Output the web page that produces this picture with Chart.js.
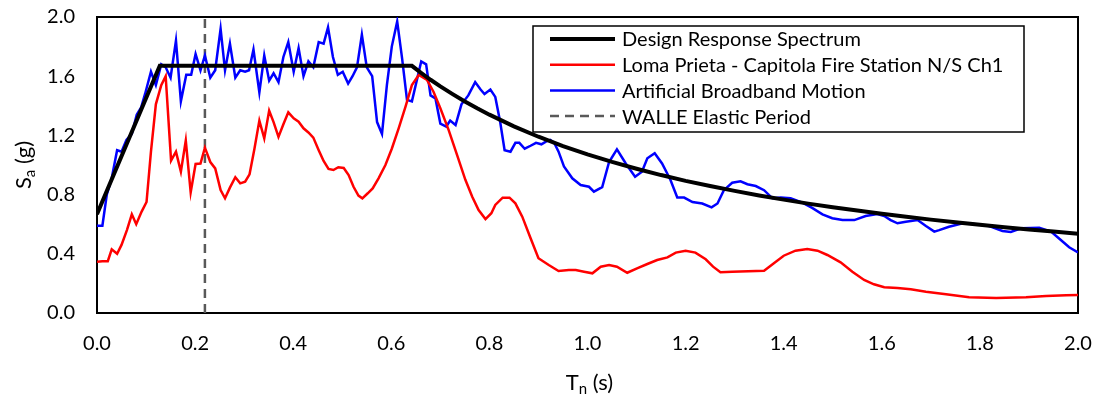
<!DOCTYPE html>
<html>
<head>
<meta charset="utf-8">
<script src="https://cdn.jsdelivr.net/npm/chart.js@4/dist/chart.umd.min.js"></script>
<style>
  html, body { margin: 0; padding: 0; background: #fff; }
  #wrap { width: 1101px; height: 398px; }
</style>
</head>
<body>
<div id="wrap"><canvas id="spectrumChart" width="1101" height="398"></canvas></div>
<script>
// Design response spectrum (period s, Sa g)
const designT = [0, 0.128, 0.642, 0.66, 0.68, 0.7, 0.725, 0.75, 0.775, 0.8, 0.85, 0.9, 0.95, 1.0, 1.05, 1.1, 1.15, 1.2, 1.25, 1.3, 1.35, 1.4, 1.45, 1.5, 1.55, 1.6, 1.65, 1.7, 1.75, 1.8, 1.85, 1.9, 1.95, 2.0];
const designSa = [0.668, 1.67, 1.67, 1.624, 1.576, 1.531, 1.479, 1.429, 1.383, 1.34, 1.261, 1.191, 1.128, 1.072, 1.021, 0.975, 0.932, 0.893, 0.858, 0.825, 0.794, 0.766, 0.739, 0.715, 0.692, 0.670, 0.650, 0.631, 0.613, 0.596, 0.579, 0.564, 0.550, 0.536];

// Loma Prieta - Capitola Fire Station N/S Ch1
const lomaT = [0.0, 0.011, 0.022, 0.03, 0.041, 0.05, 0.061, 0.071, 0.08, 0.091, 0.101, 0.11, 0.12, 0.131, 0.14, 0.151, 0.161, 0.171, 0.181, 0.191, 0.201, 0.211, 0.22, 0.231, 0.241, 0.252, 0.261, 0.271, 0.282, 0.292, 0.302, 0.311, 0.321, 0.331, 0.341, 0.351, 0.36, 0.37, 0.38, 0.39, 0.401, 0.411, 0.421, 0.431, 0.441, 0.452, 0.462, 0.472, 0.482, 0.492, 0.503, 0.513, 0.523, 0.533, 0.541, 0.552, 0.562, 0.574, 0.588, 0.601, 0.615, 0.629, 0.642, 0.656, 0.673, 0.686, 0.70, 0.717, 0.734, 0.751, 0.765, 0.778, 0.792, 0.804, 0.812, 0.827, 0.841, 0.853, 0.867, 0.884, 0.90, 0.921, 0.941, 0.962, 0.976, 0.993, 1.01, 1.027, 1.044, 1.06, 1.081, 1.101, 1.122, 1.142, 1.163, 1.18, 1.20, 1.22, 1.241, 1.256, 1.271, 1.295, 1.36, 1.38, 1.40, 1.424, 1.448, 1.469, 1.489, 1.516, 1.54, 1.564, 1.584, 1.605, 1.632, 1.659, 1.69, 1.731, 1.778, 1.833, 1.894, 1.935, 1.976, 2.0];
const lomaSa = [0.347, 0.35, 0.35, 0.43, 0.40, 0.46, 0.56, 0.667, 0.60, 0.685, 0.75, 1.09, 1.41, 1.54, 1.60, 1.03, 1.09, 0.955, 1.165, 0.815, 1.007, 1.01, 1.117, 1.02, 0.977, 0.83, 0.775, 0.847, 0.917, 0.876, 0.887, 0.937, 1.11, 1.30, 1.18, 1.367, 1.29, 1.19, 1.275, 1.356, 1.315, 1.293, 1.248, 1.22, 1.185, 1.10, 1.027, 0.973, 0.966, 0.985, 0.98, 0.932, 0.853, 0.793, 0.775, 0.809, 0.842, 0.91, 1.00, 1.11, 1.248, 1.394, 1.54, 1.608, 1.574, 1.495, 1.383, 1.236, 1.068, 0.90, 0.786, 0.696, 0.635, 0.674, 0.73, 0.779, 0.779, 0.741, 0.651, 0.505, 0.37, 0.324, 0.284, 0.29, 0.29, 0.279, 0.268, 0.313, 0.324, 0.313, 0.272, 0.302, 0.331, 0.358, 0.376, 0.408, 0.421, 0.408, 0.363, 0.313, 0.275, 0.279, 0.286, 0.336, 0.387, 0.421, 0.432, 0.421, 0.392, 0.342, 0.279, 0.223, 0.194, 0.174, 0.169, 0.16, 0.144, 0.126, 0.106, 0.101, 0.106, 0.115, 0.12, 0.122];

// Artificial Broadband Motion
const artT = [0.0, 0.011, 0.02, 0.03, 0.041, 0.05, 0.06, 0.071, 0.081, 0.09, 0.098, 0.11, 0.12, 0.131, 0.14, 0.15, 0.161, 0.171, 0.182, 0.192, 0.201, 0.211, 0.22, 0.231, 0.241, 0.252, 0.261, 0.271, 0.282, 0.292, 0.302, 0.31, 0.319, 0.331, 0.341, 0.351, 0.36, 0.37, 0.38, 0.39, 0.401, 0.411, 0.421, 0.431, 0.441, 0.452, 0.462, 0.471, 0.481, 0.491, 0.501, 0.512, 0.521, 0.53, 0.54, 0.55, 0.561, 0.571, 0.581, 0.591, 0.601, 0.612, 0.622, 0.632, 0.642, 0.661, 0.671, 0.68, 0.69, 0.70, 0.712, 0.72, 0.731, 0.743, 0.757, 0.771, 0.782, 0.79, 0.802, 0.812, 0.822, 0.831, 0.843, 0.853, 0.861, 0.872, 0.884, 0.895, 0.906, 0.916, 0.924, 0.932, 0.941, 0.952, 0.969, 0.986, 1.003, 1.013, 1.03, 1.044, 1.06, 1.078, 1.097, 1.111, 1.122, 1.137, 1.152, 1.169, 1.183, 1.197, 1.214, 1.234, 1.253, 1.265, 1.278, 1.295, 1.312, 1.326, 1.343, 1.36, 1.377, 1.394, 1.414, 1.438, 1.458, 1.479, 1.499, 1.52, 1.544, 1.567, 1.591, 1.605, 1.618, 1.632, 1.649, 1.673, 1.69, 1.707, 1.717, 1.737, 1.765, 1.792, 1.819, 1.846, 1.863, 1.884, 1.921, 1.945, 1.965, 1.982, 2.0];
const artSa = [0.59, 0.59, 0.80, 0.91, 1.10, 1.09, 1.17, 1.21, 1.34, 1.39, 1.48, 1.63, 1.54, 1.68, 1.66, 1.59, 1.84, 1.43, 1.61, 1.61, 1.75, 1.64, 1.74, 1.59, 1.64, 1.92, 1.64, 1.82, 1.59, 1.64, 1.63, 1.64, 1.78, 1.49, 1.74, 1.57, 1.62, 1.56, 1.73, 1.83, 1.63, 1.79, 1.60, 1.70, 1.66, 1.83, 1.82, 1.93, 1.73, 1.61, 1.63, 1.55, 1.60, 1.66, 1.88, 1.66, 1.60, 1.29, 1.21, 1.54, 1.80, 1.97, 1.72, 1.44, 1.43, 1.70, 1.68, 1.47, 1.45, 1.28, 1.26, 1.30, 1.27, 1.41, 1.47, 1.56, 1.51, 1.48, 1.51, 1.46, 1.29, 1.10, 1.09, 1.15, 1.15, 1.11, 1.13, 1.15, 1.14, 1.16, 1.17, 1.15, 1.09, 0.99, 0.91, 0.865, 0.853, 0.82, 0.85, 1.02, 1.106, 1.01, 0.92, 0.955, 1.045, 1.08, 1.01, 0.90, 0.78, 0.78, 0.75, 0.74, 0.714, 0.74, 0.83, 0.88, 0.89, 0.87, 0.858, 0.83, 0.775, 0.78, 0.775, 0.745, 0.71, 0.667, 0.64, 0.628, 0.628, 0.655, 0.669, 0.655, 0.628, 0.606, 0.617, 0.628, 0.588, 0.55, 0.56, 0.583, 0.606, 0.60, 0.588, 0.554, 0.547, 0.572, 0.576, 0.55, 0.493, 0.444, 0.41];

// WALLE elastic period marker
const walleT = [0.22, 0.22];
const walleSa = [0, 2.0];

const xTicks = [0, 0.2, 0.4, 0.6, 0.8, 1.0, 1.2, 1.4, 1.6, 1.8, 2.0];
const yTicks = [0, 0.4, 0.8, 1.2, 1.6, 2.0];

const FONT = "Lato, 'Open Sans', sans-serif";

function toPoints(xs, ys) {
    return xs.map((x, i) => ({ x: x, y: ys[i] }));
}

// plot frame + legend box + axis titles with subscripts
const decorPlugin = {
    id: 'decor',
    beforeDatasetsDraw(chart) {
        const { ctx, chartArea: a } = chart;
        ctx.save();
        ctx.strokeStyle = '#000';
        ctx.lineWidth = 2;
        ctx.strokeRect(a.left, a.top, a.right - a.left, a.bottom - a.top);
        ctx.restore();
    },
    afterDraw(chart) {
        const { ctx, chartArea: a } = chart;
        ctx.save();

        // legend
        const bx = a.right - 54, by = a.top + 9;
        const boxW = 491, boxH = 106;
        const left = bx - boxW;
        ctx.fillStyle = '#fff';
        ctx.fillRect(left, by, boxW, boxH);
        ctx.strokeStyle = '#000';
        ctx.lineWidth = 1.5;
        ctx.strokeRect(left, by, boxW, boxH);
        ctx.font = '20px ' + FONT;
        ctx.textBaseline = 'middle';
        ctx.textAlign = 'left';
        chart.data.datasets.forEach((ds, i) => {
            const y = by + 13 + i * 25.7;
            ctx.beginPath();
            ctx.strokeStyle = ds.borderColor;
            ctx.lineWidth = ds.borderWidth;
            ctx.setLineDash(ds.borderDash || []);
            ctx.moveTo(left + 17, y);
            ctx.lineTo(left + 82, y);
            ctx.stroke();
            ctx.setLineDash([]);
            ctx.fillStyle = '#000';
            ctx.fillText(ds.label, left + 89, y + 1);
        });

        // axis titles
        const big = '22px ' + FONT, small = '15px ' + FONT;
        function drawSub(main, sub, rest, cx, cy) {
            ctx.font = big;
            const w1 = ctx.measureText(main).width;
            const w3 = ctx.measureText(rest).width;
            ctx.font = small;
            const w2 = ctx.measureText(sub).width;
            let x = cx - (w1 + w2 + w3) / 2;
            ctx.textAlign = 'left';
            ctx.textBaseline = 'alphabetic';
            ctx.fillStyle = '#000';
            ctx.font = big;
            ctx.fillText(main, x, cy);
            x += w1;
            ctx.font = small;
            ctx.fillText(sub, x, cy + 4);
            x += w2;
            ctx.font = big;
            ctx.fillText(rest, x, cy);
        }
        drawSub('T', 'n', ' (s)', (a.left + a.right) / 2 + 2, 390);

        ctx.save();
        ctx.translate(31, (a.top + a.bottom) / 2);
        ctx.rotate(-Math.PI / 2);
        drawSub('S', 'a', ' (g)', 0, 0);
        ctx.restore();

        ctx.restore();
    }
};

window.onload = function() {
    const ctx = document.getElementById('spectrumChart').getContext('2d');
    new Chart(ctx, {
        type: 'scatter',
        data: {
            datasets: [
                {
                    label: 'Design Response Spectrum',
                    data: toPoints(designT, designSa),
                    showLine: true,
                    borderColor: '#000000',
                    borderWidth: 4,
                    pointRadius: 0,
                    tension: 0
                },
                {
                    label: 'Loma Prieta - Capitola Fire Station N/S Ch1',
                    data: toPoints(lomaT, lomaSa),
                    showLine: true,
                    borderColor: '#FF0000',
                    borderWidth: 2.5,
                    pointRadius: 0,
                    tension: 0
                },
                {
                    label: 'Artificial Broadband Motion',
                    data: toPoints(artT, artSa),
                    showLine: true,
                    borderColor: '#0000FF',
                    borderWidth: 2.5,
                    pointRadius: 0,
                    tension: 0
                },
                {
                    label: 'WALLE Elastic Period',
                    data: toPoints(walleT, walleSa),
                    showLine: true,
                    borderColor: '#595959',
                    borderWidth: 2.5,
                    borderDash: [9, 6],
                    pointRadius: 0
                }
            ]
        },
        options: {
            responsive: false,
            animation: false,
            layout: { padding: { top: 17, right: 23, left: 0, bottom: 0 } },
            plugins: {
                legend: { display: false },
                tooltip: { enabled: false }
            },
            scales: {
                x: {
                    type: 'linear',
                    min: 0,
                    max: 2,
                    afterBuildTicks: (scale) => { scale.ticks = xTicks.map(v => ({ value: v })); },
                    afterFit: (scale) => {
                        scale.height = 398 - 313;
                        scale.paddingLeft = 0;
                        scale.paddingRight = 0;
                    },
                    grid: { display: false, drawTicks: false },
                    border: { display: false },
                    ticks: {
                        padding: 19,
                        color: '#000',
                        font: { family: FONT, size: 20 },
                        callback: (v) => v.toFixed(1)
                    }
                },
                y: {
                    type: 'linear',
                    min: 0,
                    max: 2,
                    afterBuildTicks: (scale) => { scale.ticks = yTicks.map(v => ({ value: v })); },
                    afterFit: (scale) => {
                        scale.width = 97;
                        scale.paddingTop = 0;
                        scale.paddingBottom = 0;
                    },
                    grid: { display: false, drawTicks: false },
                    border: { display: false },
                    ticks: {
                        padding: 22,
                        color: '#000',
                        font: { family: FONT, size: 20 },
                        callback: (v) => v.toFixed(1)
                    }
                }
            }
        },
        plugins: [decorPlugin]
    });
};
</script>
</body>
</html>
